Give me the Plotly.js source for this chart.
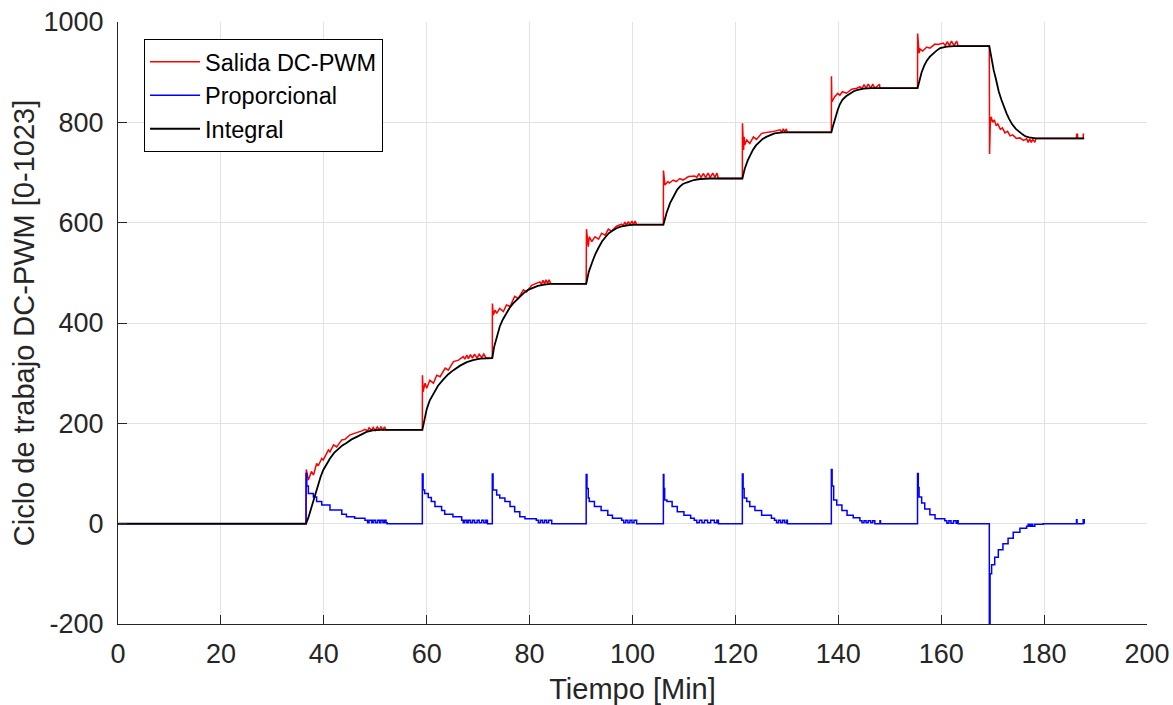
<!DOCTYPE html>
<html>
<head>
<meta charset="utf-8">
<script src="https://cdn.plot.ly/plotly-3.0.1.min.js"></script>
<style>html,body{margin:0;padding:0;background:#fff;}#chart{width:1173px;height:705px;}</style>
</head>
<body>
<div id="chart"></div>
<script>
// Salida DC-PWM (red)
const salidaT = [0,36.55,36.6,37.0,37.6,38.0,38.6,38.9,39.6,39.9,40.9,41.2,41.9,42.5,43.5,44.1,45.1,46.1,47.4,48.0,48.5,48.8,49.3,49.6,50.0,50.4,50.8,51.1,51.5,51.8,52.1,52.3,59.15,
59.17,59.3,59.67,60.0,60.6,61.3,61.95,62.6,63.6,64.2,65.2,66.2,67.1,67.4,67.8,68.1,68.5,68.9,69.3,69.8,70.2,70.7,71.1,71.5,71.8,72.75,
72.77,72.95,73.3,73.6,74.2,74.9,75.5,76.2,77.1,77.8,78.8,79.4,80.4,82.0,82.3,82.6,82.9,83.2,83.5,83.8,84.1,84.3,91.0,
91.05,91.4,91.6,92.1,92.7,93.4,94.0,94.7,95.3,95.9,96.9,97.9,98.2,98.5,98.8,99.2,99.5,99.9,100.2,100.5,100.8,106.0,
106.02,106.3,106.9,107.2,107.9,108.5,109.2,109.8,110.9,112.1,112.5,112.9,113.3,113.8,114.2,114.7,115.1,115.6,116.0,116.4,116.7,121.35,
121.37,121.6,121.7,121.8,122.2,122.8,123.5,124.1,125.1,126.1,127.0,128.7,129.0,129.3,129.6,129.9,130.1,138.65,
138.67,138.75,139.3,139.9,140.3,140.8,141.6,142.6,143.6,144.2,144.6,145.0,145.4,145.8,146.3,146.7,147.1,148.0,148.1,155.4,
155.42,155.7,155.9,156.4,157.2,157.8,158.8,159.4,160.4,160.8,161.2,161.6,162.0,162.5,163.0,163.3,169.35,
169.4,169.55,169.7,170.0,170.3,170.7,171.0,171.5,171.9,172.4,172.9,173.4,173.9,174.6,175.3,176.0,176.6,176.9,177.2,177.5,177.8,178.2,178.4,186.3,186.32,186.5,186.52,187.6,187.62,187.8];
const salidaV = [0,0,108,87,104,97,120,115,130,127,147,143,157,153,167,168,177,180,185,188,185,191,186,192,186,193,187,193,187,193,187,187,187,
296,263,280,270,286,280,296,293,310,306,323,326,333,328,336,329,337,330,338,330,338,331,338,331,330,330,
439,416,426,419,429,423,436,433,453,449,466,462,475,482,477,485,478,486,479,486,479,478,478,
587,552,572,562,572,567,579,575,587,583,593,597,594,601,595,602,596,603,596,603,596,596,
704,675,682,679,685,682,688,685,692,693,690,698,690,698,690,699,690,699,690,699,688,688,
798,745,771,755,765,758,771,766,778,780,781,785,780,787,781,787,780,780,
892,841,851,858,854,861,858,866,868,871,867,875,868,876,868,876,868,876,868,868,
977,938,946,942,950,948,956,955,958,953,961,953,962,953,962,952,952,
737,800,811,800,805,793,797,786,789,779,782,773,775,768,769,764,767,760,767,760,766,760,768,768,776,776,768,768,776,776];

// Proporcional (blue)
const propT = [0,36.55,36.7,37.0,37.97,38.6,39.6,41.2,43.5,44.4,46.0,48.0,48.5,48.8,49.3,49.6,50.0,50.4,50.8,51.1,51.5,51.8,52.1,52.3,
59.15,59.3,59.6,60.3,60.9,61.6,62.9,63.5,65.1,66.8,67.1,67.4,67.8,68.1,68.5,68.9,69.3,69.8,70.2,70.7,71.1,71.5,71.8,
72.75,72.9,73.6,74.2,75.2,76.2,77.1,78.1,79.1,81.3,81.7,82.1,82.5,82.9,83.3,83.7,84.3,
91.0,91.15,91.4,91.6,92.6,93.9,95.2,96.1,97.9,98.3,98.7,99.1,99.5,99.9,100.3,100.8,
106.0,106.1,106.25,106.7,107.7,108.7,110.0,111.3,112.0,112.5,113.0,113.5,114.0,114.6,115.2,115.9,116.4,116.7,
121.35,121.5,121.7,122.2,122.8,123.8,125.1,127.0,127.6,128.0,128.4,128.8,129.2,129.6,130.0,130.1,
138.65,138.8,139.1,139.7,140.7,141.7,142.9,144.2,144.6,145.0,145.4,145.8,146.3,146.7,147.1,148.1,148.2,
155.4,155.55,155.7,156.2,156.8,157.8,158.8,160.7,161.1,161.5,161.9,162.4,162.9,163.2,163.3,
169.35,169.5,169.8,170.4,171.1,172.0,173.0,174.0,175.3,176.6,176.9,177.2,177.5,177.8,178.2,179.8,186.3,186.4,187.6,187.8];
const propV = [0,100,75,60,53,44,37,27,19,14,11,7,2,7,2,7,2,7,2,7,2,7,2,0,
99,67,60,52,44,34,26,19,14,7,2,7,2,7,2,7,2,7,2,7,2,7,0,
99,67,57,51,44,34,24,14,10,7,2,7,2,7,2,7,0,
98,70,51,44,34,26,17,11,7,2,7,2,7,2,7,0,
98,70,47,44,34,24,17,11,7,2,7,2,7,2,7,2,7,0,
99,70,51,44,34,26,17,11,7,2,7,2,7,2,7,0,
108,75,47,37,26,17,12,6,2,6,2,6,2,6,0,6,0,
100,72,53,41,29,18,10,6,1,6,1,6,1,6,0,
-205,-100,-82,-67,-52,-40,-29,-17,-9,-5,-1,-5,-1,-5,-1,0,8,0,8,0];

// Integral (black)
const integT = [0,36.55,37.0,37.5,38.0,38.5,38.9,39.4,39.9,40.5,41.2,42.0,42.9,43.6,44.4,45.4,46.4,47.3,48.3,49.5,51.0,59.15,
59.4,59.7,60.0,60.6,61.3,62.2,63.2,64.2,65.2,66.5,67.8,69.0,70.4,72.0,72.75,
73.1,73.6,74.2,74.8,75.5,76.1,76.8,77.8,78.8,79.7,80.7,81.6,82.6,84.0,91.0,
91.2,91.5,92.2,92.8,93.5,94.1,94.8,95.4,96.1,96.9,97.7,99.3,101.0,106.0,
106.3,106.6,107.3,107.8,108.3,108.7,109.2,109.8,110.5,111.2,111.9,113.1,115.0,121.35,
121.5,121.8,122.4,122.9,123.4,124.0,124.7,125.3,126.0,126.8,127.6,129.2,138.65,
138.9,139.3,139.9,140.3,140.8,141.5,142.3,143.0,143.6,144.9,146.5,155.4,
155.7,156.2,156.7,157.2,157.8,158.5,159.1,159.8,161.1,162.5,169.35,
169.6,169.9,170.2,170.6,170.9,171.2,171.7,172.2,172.7,173.2,173.8,174.5,175.1,175.8,176.4,177.1,178.4,187.8];
const integV = [0,0,12,30,47,66,80,94,107,119,130,141,150,156,161,168,173,178,183,186,187,187,
200,213,228,246,260,275,287,298,306,315,322,326,329,330,330,
352,373,393,407,419,430,439,450,459,466,471,474,476,478,478,
488,502,522,538,552,563,572,579,584,589,592,595,596,596,
607,619,639,649,658,666,672,677,680,683,685,687,688,688,
696,707,724,736,745,754,761,767,771,775,778,780,780,
790,805,825,836,845,852,858,862,864,867,868,868,
880,900,913,923,931,938,943,948,951,952,952,
938,919,904,888,874,861,845,830,818,807,796,787,781,776,772,770,768,768];

const xTicks = [0,20,40,60,80,100,120,140,160,180,200];
const yTicks = [-200,0,200,400,600,800,1000];
const seriesNames = ['Salida DC-PWM','Proporcional','Integral'];

const axisColor = '#262626';
const fontFam = '"Liberation Sans", Arial, Helvetica, sans-serif';

const traces = [
  {x: salidaT, y: salidaV, name: seriesNames[0], mode: 'lines', line: {color: '#ff0000', width: 1.5}},
  {x: propT, y: propV, name: seriesNames[1], mode: 'lines', line: {color: '#0000ff', width: 1.5, shape: 'hv'}},
  {x: integT, y: integV, name: seriesNames[2], mode: 'lines', line: {color: '#000000', width: 1.8}}
];

const layout = {
  width: 1173, height: 705,
  margin: {l: 118, r: 26, t: 22, b: 81},
  paper_bgcolor: '#ffffff', plot_bgcolor: '#ffffff',
  font: {family: fontFam, color: axisColor},
  showlegend: true,
  legend: {x: 0.0253, y: 0.972, xanchor: 'left', yanchor: 'top', bgcolor: '#ffffff',
           bordercolor: '#000000', borderwidth: 1, font: {size: 23.5, family: fontFam, color: '#000000'},
           itemwidth: 50, tracegroupgap: 0},
  xaxis: {range: [0, 200], tickmode: 'array', tickvals: xTicks, ticktext: xTicks.map(String),
          ticks: 'inside', ticklen: 9, tickwidth: 1, tickcolor: axisColor,
          showline: true, linecolor: axisColor, linewidth: 1, mirror: false,
          showgrid: true, gridcolor: '#e2e2e2', gridwidth: 1, zeroline: false,
          tickfont: {size: 27, family: fontFam, color: axisColor}, ticklabelstandoff: 6,
          title: {text: 'Tiempo [Min]', font: {size: 29, family: fontFam, color: axisColor}, standoff: 10}},
  yaxis: {range: [-200, 1000], tickmode: 'array', tickvals: yTicks, ticktext: yTicks.map(String),
          ticks: 'inside', ticklen: 9, tickwidth: 1, tickcolor: axisColor,
          showline: true, linecolor: axisColor, linewidth: 1, mirror: false,
          showgrid: true, gridcolor: '#e2e2e2', gridwidth: 1, zeroline: false,
          tickfont: {size: 27, family: fontFam, color: axisColor}, ticklabelstandoff: 8,
          title: {text: 'Ciclo de trabajo DC-PWM [0-1023]', font: {size: 29, family: fontFam, color: axisColor}, standoff: 0}}
};

Plotly.newPlot('chart', traces, layout, {displayModeBar: false, staticPlot: true});
</script>
</body>
</html>
